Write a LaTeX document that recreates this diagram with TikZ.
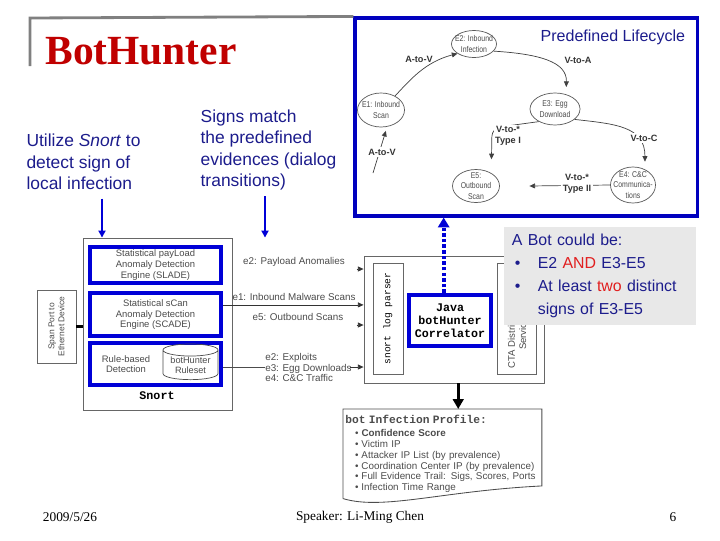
\documentclass[tikz,border=0pt]{standalone}
\usepackage{fontspec}
\setmainfont{Liberation Sans}
\setmonofont{Liberation Mono}
\newfontfamily\serifface{Liberation Serif}
\newfontfamily\narrowface[FakeStretch=0.82]{Liberation Sans}
\usepackage{xcolor}
\usepackage{tikz}
\usetikzlibrary{shapes.geometric,arrows.meta,positioning,calc}

\definecolor{navytxt}{RGB}{28,28,140}
\definecolor{frameblue}{RGB}{0,0,190}
\definecolor{boxblue}{RGB}{0,0,215}
\definecolor{titlered}{RGB}{192,0,0}
\definecolor{hotred}{RGB}{225,30,30}
\definecolor{diagtxt}{RGB}{75,75,75}
\definecolor{panelgray}{RGB}{232,232,232}

\begin{document}
\begin{tikzpicture}[x=0.025cm, y=-0.025cm,
    title_rule/.style={draw=black!50, line width=2pt},
    life_frame/.style={rectangle, draw=frameblue, line width=2.2pt, minimum width=8.55cm, minimum height=4.95cm, inner sep=0pt},
    event/.style={ellipse, draw=black!65, line width=0.5pt, fill=white, inner xsep=-5pt, inner ysep=-3pt, align=center, text=diagtxt, font=\narrowface\fontsize{6}{7.3}\selectfont},
    life_arrow/.style={-{Triangle[width=3.5pt,length=4pt]}, draw=black!75, line width=0.5pt},
    life_lbl/.style={align=center, font=\bfseries\fontsize{6.5}{7.5}\selectfont, text=black!80, inner sep=1pt},
    hint_text/.style={align=left, text=navytxt, font=\fontsize{12.4}{15.2}\selectfont, inner sep=0pt},
    hint_arrow/.style={-{Triangle[width=5pt,length=5pt]}, draw=boxblue, line width=1.4pt},
    outer_box/.style={rectangle, draw=black!60, line width=0.6pt, fill=white, inner sep=0pt},
    engine_box/.style={rectangle, draw=boxblue, line width=2.8pt, minimum width=3.29cm, align=center, text=diagtxt, font=\fontsize{6.7}{7.6}\selectfont, inner sep=0pt},
    engine_txt/.style={align=center, text=diagtxt, font=\fontsize{6.7}{7.6}\selectfont, inner sep=0pt},
    ev_lbl/.style={align=left, text=diagtxt, font=\fontsize{7}{7.3}\selectfont, inner sep=0pt},
    ev_line/.style={draw=black!70, line width=0.5pt},
    ev_arrow/.style={-{Triangle[width=3.5pt,length=4pt]}, draw=black!80, line width=0.5pt},
    tt_lbl/.style={font=\ttfamily\bfseries\fontsize{8.3}{9.3}\selectfont, align=center},
    side_box/.style={rectangle, draw=black!60, line width=0.5pt, fill=white, rotate=90, inner sep=0pt, align=center},
    dot_arrow/.style={-{Triangle[width=8pt,length=7pt]}, draw=boxblue, line width=2.8pt, dash pattern=on 2.5pt off 1.5pt},
    down_arrow/.style={-{Triangle[width=7.5pt,length=7pt]}, draw=black, line width=1.9pt},
    note_box/.style={rectangle, fill=panelgray, minimum width=4.8cm, minimum height=2.45cm, text width=4.4cm, inner xsep=0.2cm, align=left, text=navytxt, font=\fontsize{11.3}{16.3}\selectfont},
    profile_txt/.style={align=left, text width=4.85cm, inner xsep=1.5pt, inner ysep=2pt, minimum height=2.225cm, text=diagtxt, font=\fontsize{7}{7.6}\selectfont},
    profile_edge/.style={draw=black!70, line width=0.6pt},
    footer/.style={font=\serifface\fontsize{9.5}{11}\selectfont}
]
\useasboundingbox (0,0) rectangle (720,540);

% Lifecycle frame and title
\node[life_frame] (life) at (526,117) {};
\draw[title_rule] (30,66) -- (30,18) -- (life.north west);
\node[font=\serifface\bfseries\fontsize{29.5}{32}\selectfont, text=titlered] (title) at (141,51.5) {BotHunter};
\node[anchor=base east, text=navytxt, font=\fontsize{11.4}{13}\selectfont] (life_title) at (690,41) {Predefined Lifecycle};

% Events of the lifecycle
\node[event, minimum width=1.175cm, minimum height=0.85cm] (e1) at (381,110) {E1: Inbound\\Scan};
\node[event, minimum width=1.125cm, minimum height=0.675cm] (e2) at (474,44) {E2: Inbound\\Infection};
\node[event, minimum width=1.25cm, minimum height=0.8cm] (e3) at (555,109) {E3: Egg\\Download};
\node[event, minimum width=1.125cm, minimum height=0.9cm] (e4) at (633,185) {E4: C\&C\\Communica-\\tions};
\node[event, minimum width=1.175cm, minimum height=0.825cm] (e5) at (476,186) {E5:\\Outbound\\Scan};

% Transitions
\coordinate (scan_src) at (373,173);
\draw[life_arrow, shorten >=3pt] (scan_src) -- (e1.-70);
\node[life_lbl, fill=white] (lbl_scan) at (382,152) {A-to-V};
\draw[life_arrow] (e1.45) .. controls (410,80) and (425,62) .. (e2.210);
\node[life_lbl] (lbl_av) at (419,59) {A-to-V};
\draw[life_arrow] (e2.-20) .. controls (540,54) and (567,62) .. ([xshift=8pt,yshift=4pt]e3.north);
\node[life_lbl] (lbl_va) at (578,60) {V-to-A};
\draw[life_arrow, rounded corners=6pt] (e3.218) -- (492,128) -- ([xshift=11pt,yshift=7pt]e5.north);
\node[life_lbl, fill=white] (lbl_t1) at (508,136) {V-to-*\\Type I};
\draw[life_arrow] (e3.-28) .. controls (615,124) and (645,126) .. ([xshift=8.5pt,yshift=3.5pt]e4.north);
\node[life_lbl, fill=white] (lbl_vc) at (644,138) {V-to-C};
\draw[life_arrow] (e4.west) -- ([xshift=21pt]e5.east);
\node[life_lbl, fill=white] (lbl_t2) at (577,184) {V-to-*\\Type II};

% Hints on the left
\node[hint_text] (hint_snort) at (83.5,162) {Utilize \textit{Snort} to\\detect sign of\\local infection};
\node[hint_text] (hint_signs) at (268.5,150) {Signs match\\the predefined\\evidences (dialog\\transitions)};

% Snort sensor
\node[outer_box, minimum width=3.725cm, minimum height=4.3cm] (snort_box) at (157.5,324) {};
\draw[hint_arrow, shorten <=6pt] (hint_snort.south -| 102,0) -- (snort_box.north -| 102,0);
\draw[hint_arrow, shorten <=4pt] (hint_signs.south -| 265,0) -- (snort_box.north -| 265,0);
\node[engine_box, minimum height=0.92cm] (slade) at (155.5,265) {Statistical payLoad\\Anomaly Detection\\Engine (SLADE)};
\node[engine_box, minimum height=1.07cm, below=0.15cm of slade] (scade) {Statistical sCan\\Anomaly Detection\\Engine (SCADE)};
\node[engine_box, minimum height=1.04cm, below=0.075cm of scade] (rule_box) {};
\node[engine_txt] (rule_txt) at (126,364) {Rule-based\\Detection};
\node[cylinder, shape border rotate=90, aspect=0.3, draw=black!70, line width=0.5pt, minimum width=1.375cm, minimum height=0.85cm, inner sep=0pt, align=center, text=diagtxt, font=\fontsize{6.5}{7.5}\selectfont] (ruleset) at (190.5,365) {botHunter\\Ruleset};
\node[tt_lbl] (snort_lbl) at (157,396) {Snort};

\node[side_box, minimum width=1.825cm, minimum height=0.975cm, text=diagtxt, font=\fontsize{6}{7}\selectfont] (span) at (56.5,326.5) {Span Port to\\Ethernet Device};
\draw[line width=2pt] (span.south) -- (span.south -| snort_box.west);

% Correlator
\node[outer_box, minimum width=4.5cm, minimum height=3.175cm] (corr_box) at (454,319.5) {};
\node[side_box, minimum width=2.775cm, minimum height=0.75cm, font=\ttfamily\fontsize{6.8}{8}\selectfont] (parser) at (388,318.5) {snort log parser};
\node[rectangle, draw=boxblue, line width=3pt, fill=white, minimum width=2.045cm, minimum height=1.27cm, inner sep=0pt, tt_lbl] (correlator) at (450,320.5) {Java\\botHunter\\Correlator};
\node[side_box, minimum width=2.775cm, minimum height=0.975cm] (cta_box) at (516.5,318.5) {};
\node[rotate=90, align=center, text=diagtxt, font=\fontsize{6.8}{8}\selectfont] (cta_txt) at (517,334) {CTA Distribution\\Service};

% Evidence flows
\node[ev_lbl] (lbl_payload) at (294,262) {e2: Payload Anomalies};
\node[ev_lbl] (lbl_inbound) at (294,297) {e1: Inbound Malware Scans};
\node[ev_lbl] (lbl_outbound) at (298,317) {e5: Outbound Scans};
\node[ev_lbl, anchor=west] (lbl_rules) at (265,367.5) {e2: Exploits\\e3: Egg Downloads\\e4: C\&C Traffic};

\coordinate (e2_tip) at (corr_box.west |- 0,269);
\draw[ev_arrow] ([xshift=-5pt]e2_tip) -- (e2_tip);
\coordinate (e1_from) at ([yshift=7pt]scade.east);
\draw[ev_arrow] (e1_from) -- (e1_from -| corr_box.west);
\coordinate (e5_tip) at (corr_box.west |- 0,325);
\draw[ev_arrow] ([xshift=-5pt]e5_tip) -- (e5_tip);
\coordinate (rules_from) at (rule_box.east |- 0,367);
\draw[ev_line] (rules_from) -- (rules_from -| lbl_rules.west);
\coordinate (rules_tip) at (corr_box.west |- rules_from);
\draw[ev_arrow] ([xshift=-10pt]rules_tip) -- (rules_tip);

% Correlator output
\coordinate (dot_from) at ([xshift=-4.5pt]correlator.north);
\draw[dot_arrow] (dot_from) -- (dot_from |- life.south);

\node[profile_txt, anchor=north west] (profile) at (343,409) {{\ttfamily\bfseries\fontsize{8}{9}\selectfont bot Infection Profile:}\\[2pt]
\hspace*{7pt}\textbullet\hspace{2pt}\textbf{Confidence Score}\\
\hspace*{7pt}\textbullet\hspace{2pt}Victim IP\\
\hspace*{7pt}\textbullet\hspace{2pt}Attacker IP List (by prevalence)\\
\hspace*{7pt}\textbullet\hspace{2pt}Coordination Center IP (by prevalence)\\
\hspace*{7pt}\textbullet\hspace{2pt}Full Evidence Trail: Sigs, Scores, Ports\\
\hspace*{7pt}\textbullet\hspace{2pt}Infection Time Range};
\draw[profile_edge] (profile.south west) -- (profile.north west) -- (profile.north east) -- ([yshift=9pt]profile.south east) .. controls +(-100,5) and +(40,12) .. (profile.south west);
\coordinate (down_from) at ([xshift=3pt]corr_box.south);
\draw[down_arrow] (down_from) -- (down_from |- profile.north);

% Bot condition
\node[note_box] (bot_note) at (600,276) {A Bot could be:\\
\makebox[18.4pt][l]{\hspace*{2pt}\textbullet}E2 \textcolor{hotred}{AND} E3-E5\\
\makebox[18.4pt][l]{\hspace*{2pt}\textbullet}At least \textcolor{hotred}{two} distinct\\
\hspace*{18.4pt}signs of E3-E5};

% Footer
\node[footer] (foot_date) at (70,517) {2009/5/26};
\node[footer] (foot_speaker) at (360,517) {Speaker: Li-Ming Chen};
\node[footer] (foot_page) at (673,517) {6};
\end{tikzpicture}
\end{document}
